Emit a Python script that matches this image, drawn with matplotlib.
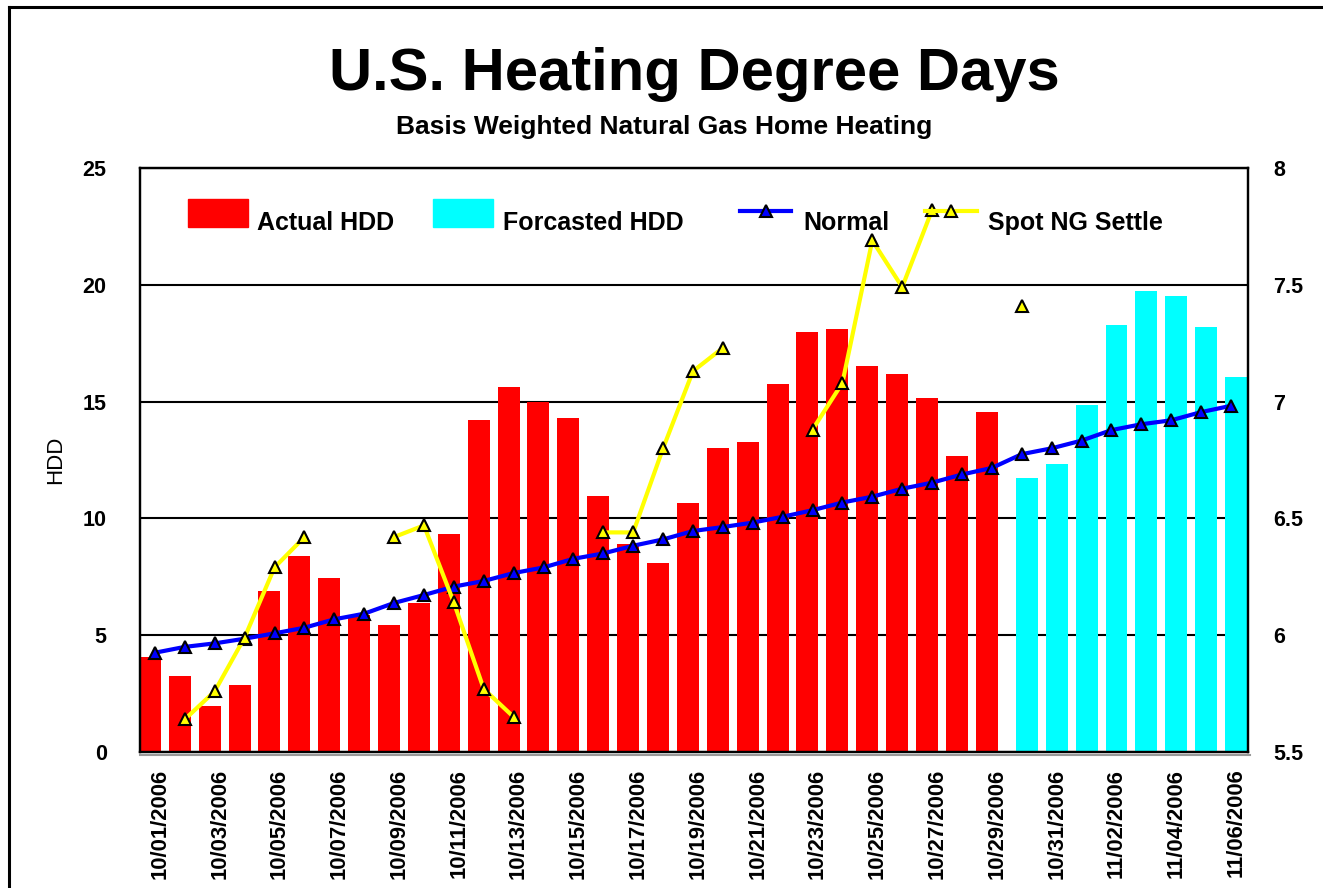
import numpy as np
import pandas as pd
import matplotlib
matplotlib.use("Agg")
import matplotlib.pyplot as plt
import matplotlib.transforms as mtransforms
from matplotlib.patches import Patch
from matplotlib.lines import Line2D

plt.rcParams['font.family'] = ['Liberation Sans', 'DejaVu Sans']

# daily categories 10/01/2006 .. 11/06/2006
days = pd.date_range("2006-10-01", "2006-11-06", freq="D")
day_labels = [d.strftime("%m/%d/%Y") for d in days]

# HDD observed (10/01 - 10/29) and forecast (10/30 - 11/06)
actual_hdd = [4.05, 3.27, 1.98, 2.85, 6.9, 8.37, 7.43, 5.86, 5.45, 6.39,
              9.32, 14.22, 15.61, 15.0, 14.31, 10.94, 8.9, 8.09, 10.68, 13.0,
              13.27, 15.76, 17.99, 18.1, 16.53, 16.2, 15.17, 12.66, 14.55]
forecast_hdd = [11.72, 12.33, 14.84, 18.27, 19.75, 19.5, 18.2, 16.04]

normal_hdd = [4.25, 4.5, 4.65, 4.85, 5.08, 5.32, 5.68, 5.92, 6.38, 6.72,
              7.08, 7.32, 7.66, 7.9, 8.27, 8.5, 8.83, 9.1, 9.46, 9.63,
              9.82, 10.07, 10.35, 10.68, 10.93, 11.27, 11.53, 11.88, 12.16,
              12.75, 13.0, 13.33, 13.78, 14.03, 14.2, 14.55, 14.82]

nan = np.nan
# spot NG settle, no value on weekends
spot_ng = [nan, 5.64, 5.76, 5.99, 6.29, 6.42, nan, nan, 6.42, 6.47,
           6.14, 5.77, 5.65, nan, nan, 6.44, 6.44, 6.80, 7.13, 7.23,
           nan, nan, 6.88, 7.08, 7.69, 7.49, 7.82, nan, nan, 7.41,
           nan, nan, nan, nan, nan, nan, nan]

W, H = 1323, 888
fig = plt.figure(figsize=(W / 100, H / 100), dpi=100)
ax = fig.add_axes([140 / W, 1 - 752 / H, 1108 / W, 584 / H])

x = np.arange(len(days))
n_act = len(actual_hdd)
ax.bar(x[:n_act] - 0.17, actual_hdd, width=0.735, color="#ff0000", zorder=2)
ax.bar(x[n_act:] + 0.17, forecast_hdd, width=0.735, color="#00ffff", zorder=2)
ax.plot(x, normal_hdd, color="#0000ff", lw=3, marker="^", ms=9,
        mfc="#0000ff", mec="black", mew=1.5, zorder=3)

ax.set_xlim(-0.5, len(days) - 0.43)
ax.set_ylim(0, 25)
ax.set_yticks([0, 5, 10, 15, 20, 25])
ax.yaxis.grid(True, color="black", lw=1.5)
ax.set_axisbelow(True)
ax.set_xticks(x[::2])
ax.set_xticklabels(day_labels[::2], rotation=90, fontsize=15.8, fontweight="bold")
ax.tick_params(axis="x", length=0, pad=12)
shift = mtransforms.ScaledTranslation(5 / 100, 0, fig.dpi_scale_trans)
for t in ax.get_xticklabels():
    t.set_transform(t.get_transform() + shift)
ax.tick_params(axis="y", length=0, pad=24, labelsize=15.5)
for t in ax.get_yticklabels():
    t.set_fontweight("bold")
ax.set_ylabel("HDD", fontsize=16)
ax.yaxis.set_label_coords(-0.067, 0.5)
for s in ax.spines.values():
    s.set_linewidth(1.6)
    s.set_color("black")

ax2 = ax.twinx()
ax2.plot(x, spot_ng, color="#ffff00", lw=3, marker="^", ms=9,
         mfc="#ffff00", mec="black", mew=1.5, zorder=3)
ax2.set_ylim(5.5, 8)
ax2.set_yticks([5.5, 6, 6.5, 7, 7.5, 8])
ax2.set_yticklabels(["5.5", "6", "6.5", "7", "7.5", "8"])
ax2.tick_params(axis="y", length=0, pad=18, labelsize=15.5)
for t in ax2.get_yticklabels():
    t.set_fontweight("bold")
for s in ax2.spines.values():
    s.set_linewidth(1.6)

# grey shadow under the category axis
fig.add_artist(Line2D([140 / W, 1250 / W], [1 - 755 / H, 1 - 755 / H], color="#999999",
                      lw=1.5, transform=fig.transFigure))

# titles
fig.text(694 / W, 1 - 75 / H, "U.S. Heating Degree Days", ha="center", va="center",
         fontsize=43, fontweight="bold")
fig.text(664 / W, 1 - 127 / H, "Basis Weighted Natural Gas Home Heating",
         ha="center", va="center", fontsize=19, fontweight="bold")

# legend entries placed like the original: handle via legend, text below-aligned
fs = 18
fpx = fs * 100 / 72
def put_legend(handle, label, x_px, hl, hh, text_x):
    fig.legend([handle], [""], loc="center left",
               bbox_to_anchor=(x_px / W, 1 - 213 / H),
               bbox_transform=fig.transFigure, frameon=False,
               borderpad=0, borderaxespad=0, handlelength=hl,
               handleheight=hh, handletextpad=0, numpoints=1,
               prop={"size": fs})
    fig.text(text_x / W, 1 - 230 / H, label, ha="left", va="baseline",
             fontsize=fs, fontweight="bold")

put_legend(Patch(color="#ff0000"), "Actual HDD", 188, 60 / fpx, 34 / fpx, 257)
put_legend(Patch(color="#00ffff"), "Forcasted HDD", 433, 60 / fpx, 34 / fpx, 503)
put_legend(Line2D([], [], color="#0000ff", lw=3, marker="^", ms=9, mfc="#0000ff",
                  mec="black", mew=1.5), "Normal", 740, 51 / fpx, 0.7, 803)
put_legend(Line2D([], [], color="#ffff00", lw=3, marker="^", ms=9, mfc="#ffff00",
                  mec="black", mew=1.5), "Spot NG Settle", 925, 52 / fpx, 0.7, 988)

# outer frame (cut at right and bottom)
fig.add_artist(Line2D([9 / W, 9 / W], [0, 1 - 7 / H], color="black", lw=2.2,
                      transform=fig.transFigure))
fig.add_artist(Line2D([9 / W, 1], [1 - 7 / H, 1 - 7 / H], color="black", lw=2.2,
                      transform=fig.transFigure))

fig.savefig("out.png", dpi=100)
